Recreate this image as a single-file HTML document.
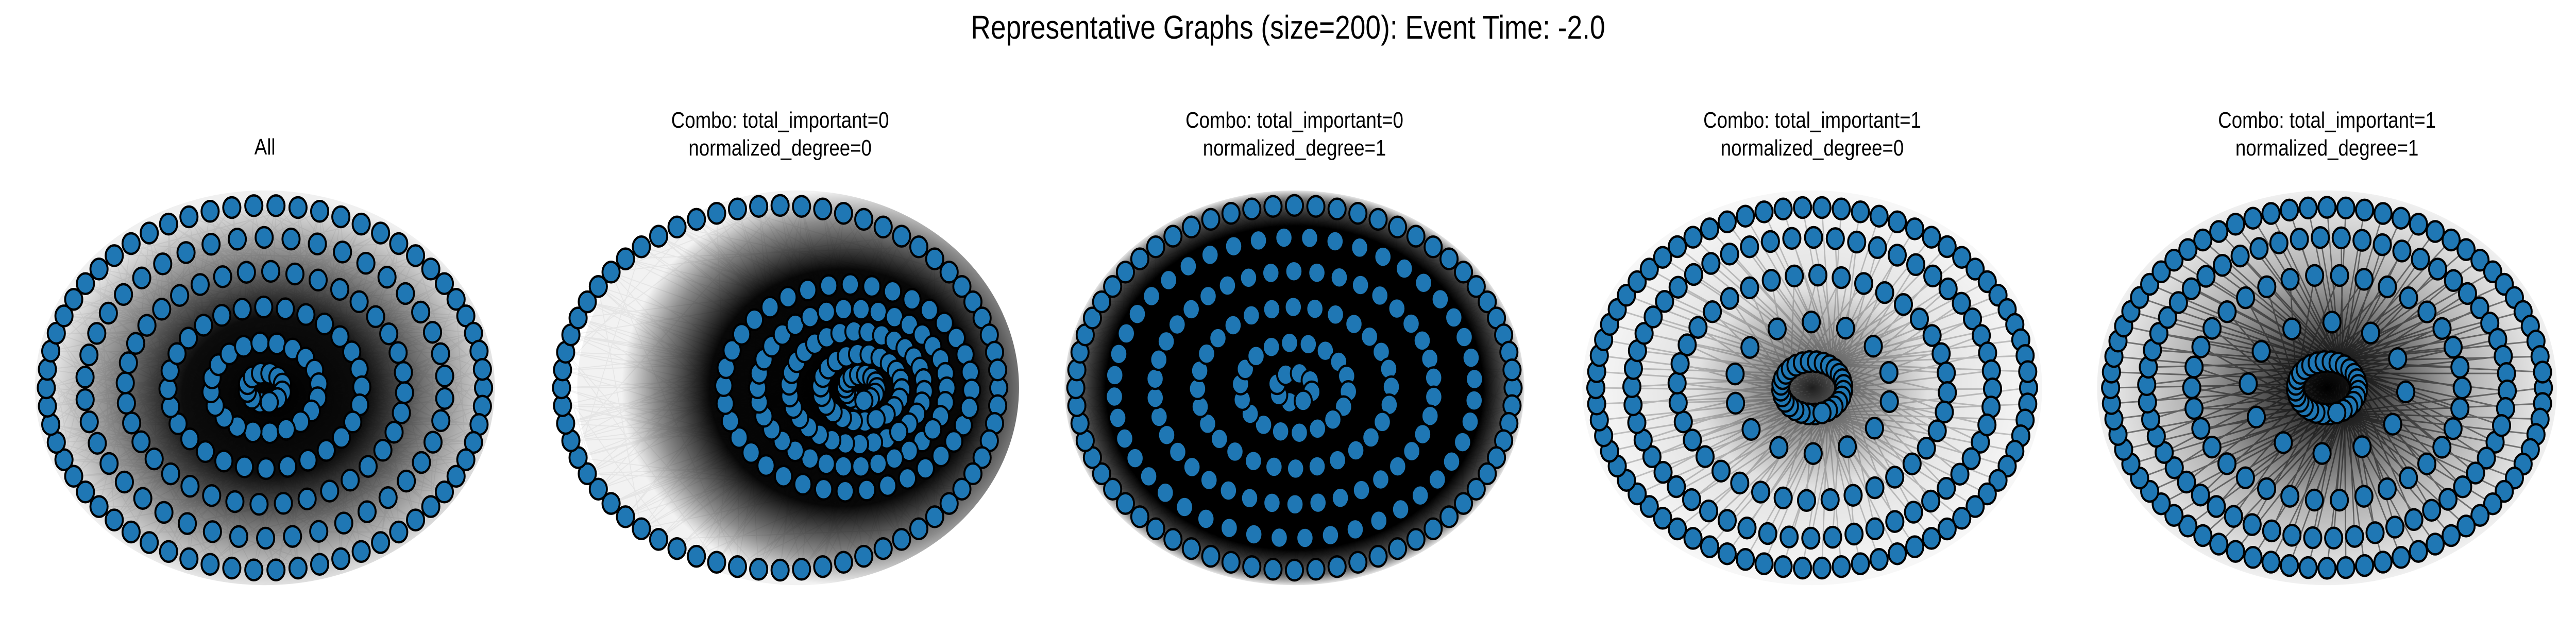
<!DOCTYPE html>
<html><head><meta charset="utf-8"><style>
html,body{margin:0;padding:0;background:#fff;overflow:hidden;width:100%;height:100%;}
svg{display:block;width:100vw;height:100vh;font-family:"Liberation Sans","DejaVu Sans",sans-serif;}
</style></head>
<body>
<svg id="fig" viewBox="0 0 6000 1200" preserveAspectRatio="none">
<defs>
<radialGradient id="g1" cx="0.52" cy="0.52" r="0.5"><stop offset="0" stop-color="#000" stop-opacity="1"/><stop offset="0.4" stop-color="#000" stop-opacity="0.95"/><stop offset="0.72" stop-color="#000" stop-opacity="0.45"/><stop offset="1" stop-color="#000" stop-opacity="0.06"/></radialGradient>
<radialGradient id="g2" cx="0.6" cy="0.5" r="0.5"><stop offset="0" stop-color="#000" stop-opacity="1"/><stop offset="0.6" stop-color="#000" stop-opacity="0.97"/><stop offset="0.85" stop-color="#000" stop-opacity="0.45"/><stop offset="1" stop-color="#000" stop-opacity="0.05"/></radialGradient>
<radialGradient id="g3" cx="0.5" cy="0.5" r="0.5"><stop offset="0" stop-color="#000" stop-opacity="1"/><stop offset="0.82" stop-color="#000" stop-opacity="1"/><stop offset="0.95" stop-color="#000" stop-opacity="0.6"/><stop offset="1" stop-color="#000" stop-opacity="0.1"/></radialGradient>
<radialGradient id="g4" cx="0.5" cy="0.5" r="0.5"><stop offset="0" stop-color="#000" stop-opacity="0.85"/><stop offset="0.15" stop-color="#000" stop-opacity="0.5"/><stop offset="0.5" stop-color="#000" stop-opacity="0.12"/><stop offset="1" stop-color="#000" stop-opacity="0.03"/></radialGradient>
<radialGradient id="g5" cx="0.5" cy="0.5" r="0.5"><stop offset="0" stop-color="#000" stop-opacity="1"/><stop offset="0.2" stop-color="#000" stop-opacity="0.75"/><stop offset="0.6" stop-color="#000" stop-opacity="0.3"/><stop offset="1" stop-color="#000" stop-opacity="0.06"/></radialGradient>
</defs>
<text x="3000" y="75" font-size="64" text-anchor="middle">Representative Graphs (size=200): Event Time: -2.0</text>
<g id="panels"></g>
</svg>
<script>
// panel titles
const titles1 = ["All", "Combo: total_important=0", "Combo: total_important=0", "Combo: total_important=1", "Combo: total_important=1"];
const titles2 = ["", "normalized_degree=0", "normalized_degree=1", "normalized_degree=0", "normalized_degree=1"];
// ring structure per panel: node counts, radial fractions, horizontal offset of ring center
const ringCounts = [[62,42,36,28,20,12],[64,36,34,30,22,14],[64,44,38,28,18,8],[70,52,36,14,28],[72,54,34,12,28]];
const ringRadii = [[0.97,0.8,0.62,0.43,0.24,0.08],[0.97,0.55,0.42,0.3,0.18,0.07],[0.97,0.8,0.62,0.43,0.24,0.08],[0.96,0.8,0.6,0.35,0.14],[0.96,0.8,0.6,0.35,0.14]];
const ringShift = [[0,0,0,0,0,0],[0,0.3,0.32,0.34,0.36,0.36],[0,0,0,0,0,0],[0,0,0,0,0],[0,0,0,0,0]];
const edgeStyle = ["mesh","mesh","mesh","hub","hub"];
const hubAlpha = [0,0,0,0.07,0.16];

const cxs=[617,1817,3015,4221,5420], cy=753, RX=525, RY=365, NR=20;
const NS="http://www.w3.org/2000/svg";
const root=document.getElementById('panels');
function mk(tag,attrs){const e=document.createElementNS(NS,tag);for(const k in attrs)e.setAttribute(k,attrs[k]);return e;}

for(let p=0;p<5;p++){
  const g=mk('g',{});
  
  
  root.appendChild(g);
  const cx=cxs[p];
  const t1=mk('text',{x:cx,y:titles2[p]?248:300,'font-size':44,'text-anchor':'middle'});
  t1.textContent=titles1[p];
  
  
  g.appendChild(t1);
  if(titles2[p]){
    const t2=mk('text',{x:cx,y:302,'font-size':44,'text-anchor':'middle'});
    t2.textContent=titles2[p];
    
    
    g.appendChild(t2);
  }
  const nodes=[];const hubs=[];
  ringCounts[p].forEach((n,ri)=>{
    const f=ringRadii[p][ri], sh=ringShift[p][ri];
    for(let i=0;i<n;i++){
      const a=2*Math.PI*i/n+ri*0.37;
      const x=cx+RX*(sh+f*Math.cos(a)), y=cy+RY*f*Math.sin(a);
      nodes.push([x,y]);
      if(f<0.16) hubs.push([x,y]);
    }
  });
  const eg=mk('g',{});
  
  
  g.appendChild(eg);
  const bx=cx+(p===1?RX*0.08:0);
  const blob=mk('ellipse',{cx:bx,cy:cy,rx:RX*(p===1?0.98:1.02),ry:RY*1.05,fill:'url(#g'+(p+1)+')'});
  
  
  eg.appendChild(blob);
  if(edgeStyle[p]==="hub"){
    let d="";
    nodes.forEach((nd,i)=>{const h=hubs[i%hubs.length];d+="M"+nd[0].toFixed(1)+" "+nd[1].toFixed(1)+"L"+h[0].toFixed(1)+" "+h[1].toFixed(1);});
    const pe=mk('path',{d:d,stroke:'#000','stroke-width':3,'stroke-opacity':hubAlpha[p]*3,fill:'none'});
    
    
    eg.appendChild(pe);
  } else {
    let d="";const N=nodes.length;
    for(let i=0;i<N;i++){for(const k of [37,71,113]){const q=nodes[(i*k+5)%N];d+="M"+nodes[i][0].toFixed(1)+" "+nodes[i][1].toFixed(1)+"L"+q[0].toFixed(1)+" "+q[1].toFixed(1);}}
    const pe=mk('path',{d:d,stroke:'#000','stroke-width':2,'stroke-opacity':0.05,fill:'none'});
    
    
    eg.appendChild(pe);
  }
  const ng=mk('g',{});
  
  
  g.appendChild(ng);
  nodes.forEach(nd=>{
    const c=mk('circle',{cx:nd[0].toFixed(1),cy:nd[1].toFixed(1),r:NR,fill:'#1f77b4',stroke:'#000','stroke-width':4.5});
    
    
    ng.appendChild(c);
  });
}
</script>
</body></html>
